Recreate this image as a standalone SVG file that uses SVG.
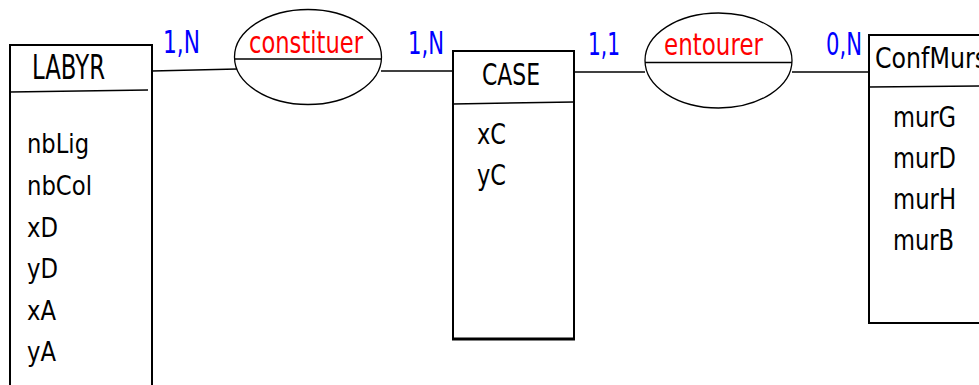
<svg xmlns="http://www.w3.org/2000/svg" width="979" height="385" viewBox="0 0 979 385">
<style>
.box{fill:#fff;stroke:#000;stroke-width:2}
.div{stroke:#000;stroke-width:1.5;fill:none}
.rel{fill:#fff;stroke:#000;stroke-width:1.3}
.con{stroke:#000;stroke-width:1.3;fill:none}
text{font-family:"DejaVu Sans","Liberation Sans",sans-serif}
.t{fill:#000}
.card{fill:#0000ff;font-size:32px}
.rn{fill:#ff0000;font-size:30px}
</style>
<rect width="979" height="385" fill="#fff"/>
<g id="connectors">
<line class="con" x1="152" y1="71" x2="237" y2="69"/>
<line class="con" x1="381" y1="71" x2="453" y2="71"/>
<line class="con" x1="574" y1="72" x2="645" y2="72"/>
<line class="con" x1="792" y1="72" x2="869" y2="72"/>
<text class="card" x="163" y="53" textLength="37" lengthAdjust="spacingAndGlyphs">1,N</text>
<text class="card" x="408" y="54" textLength="36" lengthAdjust="spacingAndGlyphs">1,N</text>
<text class="card" x="588" y="55" textLength="32" lengthAdjust="spacingAndGlyphs">1,1</text>
<text class="card" x="826" y="55" textLength="36" lengthAdjust="spacingAndGlyphs">0,N</text>
</g>
<g id="LABYR">
<rect class="box" x="10" y="45" width="142" height="360"/>
<line class="div" x1="10" y1="92" x2="148" y2="90"/>
<text class="t" x="32" y="79" font-size="33" textLength="73" lengthAdjust="spacingAndGlyphs">LABYR</text>
<text class="t" x="27" y="153" font-size="27" textLength="62" lengthAdjust="spacingAndGlyphs">nbLig</text>
<text class="t" x="27" y="195" font-size="27" textLength="65" lengthAdjust="spacingAndGlyphs">nbCol</text>
<text class="t" x="27" y="237" font-size="27" textLength="31" lengthAdjust="spacingAndGlyphs">xD</text>
<text class="t" x="27" y="278" font-size="27" textLength="31" lengthAdjust="spacingAndGlyphs">yD</text>
<text class="t" x="27" y="320" font-size="27" textLength="29" lengthAdjust="spacingAndGlyphs">xA</text>
<text class="t" x="27" y="361" font-size="27" textLength="29" lengthAdjust="spacingAndGlyphs">yA</text>
</g>
<g id="constituer">
<ellipse class="rel" cx="308" cy="57" rx="73.5" ry="47.5"/>
<line class="con" x1="235" y1="59" x2="381" y2="59"/>
<text class="rn" x="249" y="53" textLength="114" lengthAdjust="spacingAndGlyphs">constituer</text>
</g>
<g id="CASE">
<rect class="box" x="453" y="51" width="121" height="288"/>
<line x1="452" y1="339" x2="575" y2="339" stroke="#000" stroke-width="3"/>
<line class="div" x1="453" y1="104" x2="574" y2="102"/>
<text class="t" x="482" y="85" font-size="31" textLength="58" lengthAdjust="spacingAndGlyphs">CASE</text>
<text class="t" x="477" y="144" font-size="29" textLength="29" lengthAdjust="spacingAndGlyphs">xC</text>
<text class="t" x="477" y="185" font-size="29" textLength="29" lengthAdjust="spacingAndGlyphs">yC</text>
</g>
<g id="entourer">
<ellipse class="rel" cx="718.5" cy="60.5" rx="73.5" ry="47.5"/>
<line class="con" x1="645" y1="62.5" x2="792" y2="62.5"/>
<text class="rn" x="664" y="55" textLength="99" lengthAdjust="spacingAndGlyphs">entourer</text>
</g>
<g id="ConfMurs">
<rect class="box" x="869" y="35" width="150" height="288"/>
<line class="div" x1="869" y1="87" x2="979" y2="86"/>
<text class="t" x="875" y="68" font-size="29" textLength="112" lengthAdjust="spacingAndGlyphs">ConfMurs</text>
<text class="t" x="893" y="127" font-size="28" textLength="63" lengthAdjust="spacingAndGlyphs">murG</text>
<text class="t" x="893" y="168" font-size="28" textLength="63" lengthAdjust="spacingAndGlyphs">murD</text>
<text class="t" x="893" y="209" font-size="28" textLength="63" lengthAdjust="spacingAndGlyphs">murH</text>
<text class="t" x="893" y="250" font-size="28" textLength="61" lengthAdjust="spacingAndGlyphs">murB</text>
</g>
</svg>
